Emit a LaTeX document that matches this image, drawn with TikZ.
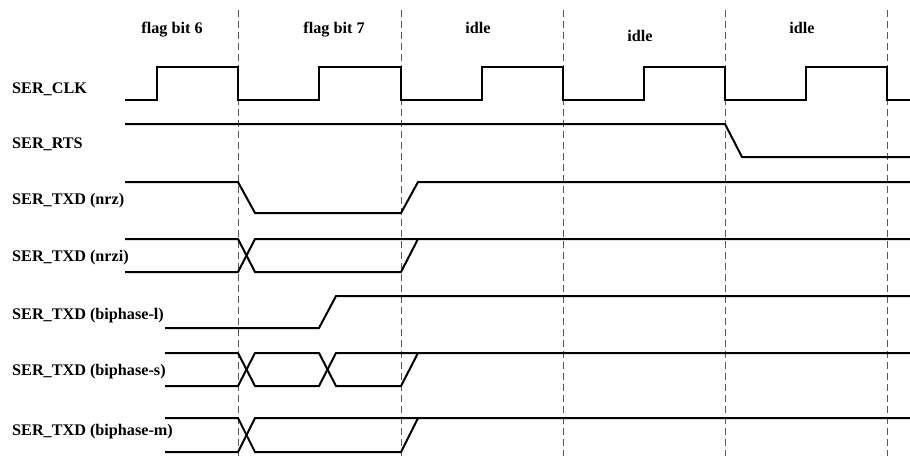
\documentclass[tikz,border=0pt]{standalone}
\usepackage{fontspec}
\setmainfont{Liberation Serif}
\usepackage{tikz}
\tikzset{%
    wave/.style={line width=2pt,line join=miter},
    bitsep/.style={draw=black!65,line width=0.9pt,dash pattern=on 7pt off 4pt}
}

\begin{document}
\begin{tikzpicture}[x=1pt,y=-1pt,
    sig/.style={anchor=base west,inner sep=0pt,font=\fontsize{16.2}{19}\selectfont\bfseries},
    hdr/.style={anchor=base,inner sep=0pt,font=\fontsize{16.2}{19}\selectfont\bfseries}]
        \useasboundingbox (0,0) rectangle (910,456);

        \draw[bitsep] (238,10) -- (238,456);
        \draw[bitsep] (401,10) -- (401,456);
        \draw[bitsep] (563,10) -- (563,456);
        \draw[bitsep] (725,10) -- (725,456);
        \draw[bitsep] (887,10) -- (887,456);

        \node[hdr] (b6) at (172,33){flag bit 6};
        \node[hdr] (b7) at (334,33){flag bit 7};
        \node[hdr] (i1) at (478,33){idle};
        \node[hdr] (i2) at (640,41){idle};
        \node[hdr] (i3) at (802,33){idle};

        \node[sig] (clk) at (12,93){SER\_CLK};
        \node[sig] (rts) at (12,148){SER\_RTS};
        \node[sig] (nrz) at (12,204){SER\_TXD (nrz)};
        \node[sig] (nrzi) at (12,261){SER\_TXD (nrzi)};
        \node[sig] (bpl) at (12,319){SER\_TXD (biphase-l)};
        \node[sig] (bps) at (12,375){SER\_TXD (biphase-s)};
        \node[sig] (bpm) at (12,435){SER\_TXD (biphase-m)};

        \draw[wave] (125,100) -- (157,100) -- (157,67) -- (238,67) -- (238,100)
            -- (319,100) -- (319,67) -- (401,67) -- (401,100)
            -- (482,100) -- (482,67) -- (563,67) -- (563,100)
            -- (644,100) -- (644,67) -- (725,67) -- (725,100)
            -- (806,100) -- (806,67) -- (887,67) -- (887,100) -- (910,100);

        \draw[wave] (125,124) -- (725,124) -- (742,157) -- (910,157);

        \draw[wave] (125,182) -- (238,182) -- (255,213) -- (401,213) -- (418,182) -- (910,182);

        \draw[wave] (125,239) -- (238,239) -- (255,272) -- (401,272) -- (418,239);
        \draw[wave] (125,272) -- (238,272) -- (255,239) -- (910,239);

        \draw[wave] (165,328) -- (319,328) -- (336,296) -- (910,296);

        \draw[wave] (165,353) -- (238,353) -- (255,386) -- (319,386) -- (336,353) -- (910,353);
        \draw[wave] (165,386) -- (238,386) -- (255,353) -- (319,353) -- (336,386) -- (401,386) -- (418,353);

        \draw[wave] (165,418) -- (238,418) -- (255,452) -- (401,452) -- (418,418);
        \draw[wave] (165,452) -- (238,452) -- (255,418) -- (910,418);
    \end{tikzpicture}
\end{document}
